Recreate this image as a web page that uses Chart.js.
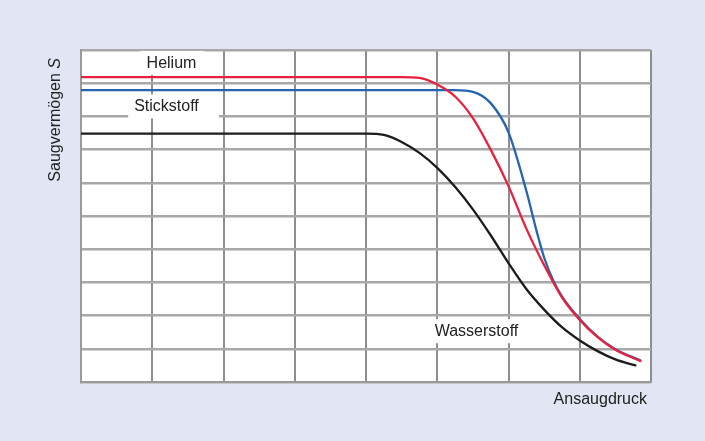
<!DOCTYPE html>
<html>
<head>
<meta charset="utf-8">
<script src="https://cdn.jsdelivr.net/npm/chart.js@4/dist/chart.umd.min.js"></script>
<style>
  html, body { margin: 0; padding: 0; background: #e1e5f4; }
  #wrap { width: 705px; height: 441px; }
</style>
</head>
<body>
<div id="wrap"><canvas id="c" width="705" height="441"></canvas></div>
<script>
// ---- Data (arbitrary units, no tick labels) ----
const heliumDruck = [0, 4.5, 4.75, 5.0, 5.25, 5.5, 5.75, 6.0, 6.25, 6.5, 6.75, 7.0, 7.25, 7.5, 7.85];
const heliumS     = [9.18, 9.18, 9.16, 8.96, 8.6, 7.95, 7.0, 5.9, 4.62, 3.52, 2.55, 1.87, 1.35, 0.97, 0.63];

const stickstoffDruck = [0, 5.25, 5.5, 5.75, 6.0, 6.25, 6.4, 6.5, 6.625, 6.75, 7.0, 7.25, 7.5, 7.85];
const stickstoffS     = [8.79, 8.79, 8.74, 8.4, 7.52, 5.76, 4.5, 3.75, 3.07, 2.58, 1.9, 1.37, 0.99, 0.65];

const wasserstoffDruck = [0, 4.0, 4.25, 4.5, 4.75, 5.0, 5.25, 5.5, 5.75, 6.0, 6.25, 6.5, 6.75, 7.0, 7.25, 7.5, 7.78];
const wasserstoffS     = [7.48, 7.48, 7.44, 7.23, 6.9, 6.45, 5.88, 5.2, 4.42, 3.58, 2.8, 2.18, 1.65, 1.25, 0.93, 0.68, 0.5];

const seriesNames = ['Helium', 'Stickstoff', 'Wasserstoff'];
const xTitle = 'Ansaugdruck';
const yTitle = 'Saugvermögen ';
const yTitleSymbol = 'S';

const toPoints = (xs, ys) => xs.map((x, i) => ({ x: x, y: ys[i] }));

const FONT = '"Liberation Sans", Arial, Helvetica, sans-serif';
const TEXT = '#222222';

// label anchors (data coordinates)
const labelPos = {
  Helium:      { x: 1.27, y: 9.61, padL: 6, padR: 8 },
  Stickstoff:  { x: 1.20, y: 8.30, padL: 6, padR: 20 },
  Wasserstoff: { x: 5.55, y: 1.53, padL: 8, padR: 8 }
};

const annot = {
  id: 'annot',
  beforeDraw(chart) {
    const { ctx, chartArea: a } = chart;
    ctx.save();
    ctx.fillStyle = '#e1e5f4';
    ctx.fillRect(0, 0, chart.width, chart.height);
    ctx.fillStyle = '#ffffff';
    ctx.fillRect(a.left, a.top, a.right - a.left, a.bottom - a.top);
    ctx.restore();
  },
  beforeDatasetsDraw(chart) {
    const { ctx, scales } = chart;
    ctx.save();
    ctx.font = '16px ' + FONT;
    ctx.textBaseline = 'middle';
    ctx.textAlign = 'center';
    seriesNames.forEach(name => {
      const p = labelPos[name];
      const cx = scales.x.getPixelForValue(p.x);
      const cy = scales.y.getPixelForValue(p.y);
      const w = ctx.measureText(name).width;
      ctx.fillStyle = '#ffffff';
      ctx.fillRect(cx - w / 2 - p.padL, cy - 12, w + p.padL + p.padR, 24);
      ctx.fillStyle = TEXT;
      ctx.fillText(name, cx, cy + 0.5);
    });
    ctx.restore();
  },
  afterDraw(chart) {
    const { ctx, chartArea: a } = chart;
    ctx.save();
    ctx.fillStyle = TEXT;
    ctx.font = '16px ' + FONT;
    ctx.textAlign = 'right';
    ctx.textBaseline = 'middle';
    ctx.fillText(xTitle, a.right - 4, a.bottom + 18);
    const fN = '16px ' + FONT, fI = 'italic 16px ' + FONT;
    ctx.font = fN; const w1 = ctx.measureText(yTitle).width;
    ctx.font = fI; const w2 = ctx.measureText(yTitleSymbol).width;
    ctx.translate(a.left - 25, a.top + 8 + w1 + w2);
    ctx.rotate(-Math.PI / 2);
    ctx.textAlign = 'left';
    ctx.font = fN; ctx.fillText(yTitle, 0, 0);
    ctx.font = fI; ctx.fillText(yTitleSymbol, w1, 0);
    ctx.restore();
  }
};

new Chart(document.getElementById('c'), {
  type: 'line',
  data: {
    datasets: [
      { label: seriesNames[0], data: toPoints(heliumDruck, heliumS), borderColor: '#e8213f' },
      { label: seriesNames[1], data: toPoints(stickstoffDruck, stickstoffS), borderColor: '#2563b3' },
      { label: seriesNames[2], data: toPoints(wasserstoffDruck, wasserstoffS), borderColor: '#1c1c1c' }
    ]
  },
  options: {
    responsive: false,
    animation: false,
    layout: { padding: { left: 81, top: 50, right: 54, bottom: 59 } },
    elements: {
      point: { radius: 0 },
      line: { borderWidth: 2.3, cubicInterpolationMode: 'monotone', fill: false, borderCapStyle: 'round', borderJoinStyle: 'round' }
    },
    plugins: { legend: { display: false }, tooltip: { enabled: false } },
    scales: {
      x: {
        type: 'linear', min: 0, max: 8,
        ticks: { display: false, stepSize: 1 },
        grid: { color: '#8e8e8e', lineWidth: 2, drawTicks: false },
        border: { display: true, color: '#9a9a9a', width: 2 }
      },
      y: {
        type: 'linear', min: 0, max: 10,
        ticks: { display: false, stepSize: 1 },
        grid: { color: '#a8a8a8', lineWidth: 2.5, drawTicks: false },
        border: { display: true, color: '#9a9a9a', width: 2 }
      }
    }
  },
  plugins: [annot]
});
</script>
</body>
</html>
